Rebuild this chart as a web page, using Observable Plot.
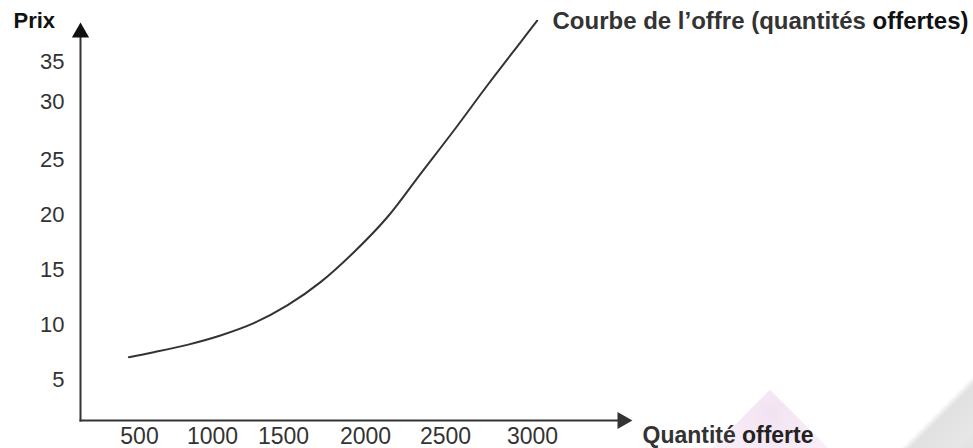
<!DOCTYPE html>
<html>
<head>
<meta charset="utf-8">
<script src="https://cdn.jsdelivr.net/npm/d3@7"></script>
<script src="https://cdn.jsdelivr.net/npm/@observablehq/plot@0.6"></script>
<style>
  html, body { margin: 0; padding: 0; background: #ffffff; }
  body { width: 973px; height: 448px; overflow: hidden; position: relative; font-family: "Liberation Sans", Arial, sans-serif; }
  #deco1 { position: absolute; left: 702px; top: 418px; width: 136px; height: 136px; transform: rotate(45deg);
           background: radial-gradient(circle at 12% 12%, rgba(228,192,226,0.45), rgba(238,214,236,0.3) 45%, rgba(255,255,255,0) 85%); }
  #deco2 { position: absolute; left: 0; top: 0; width: 973px; height: 973px;
           background: linear-gradient(135deg, rgba(255,255,255,0) 69.3%, rgba(215,215,215,0.75) 69.8%, rgba(222,222,222,0.75) 72%, rgba(205,205,205,0.8) 76%); }
  #chart { position: absolute; left: 0; top: 0; }
</style>
</head>
<body>
<div id="deco1"></div>
<div id="deco2"></div>
<div id="chart"></div>
<script>
// Supply curve: quantity offered vs price
const quantities = [427, 598, 827, 1056, 1291, 1523, 1726, 1929, 2136, 2344, 2548, 2740, 2931, 3027];
const prices     = [7.03, 7.48, 8.15, 9.0, 10.12, 11.73, 13.85, 16.57, 19.75, 23.7, 27.5, 32.0, 37.4, 40.1];

const xTicks = [500, 1000, 1500, 2000, 2500, 3000];
const yTicks = [5, 10, 15, 20, 25, 30, 35];

const yLabel = "Prix";
const xLabelA = "Quantité ";
const xLabelB = "offerte";
const curveLabelA = "Courbe de l’offre (quantités ";
const curveLabelB = "offertes)";

const data = quantities.map((q, i) => ({q, p: prices[i]}));

// The hand-drawn axes space their graduations unevenly: piecewise-linear scale transforms
const fx = d3.scaleLinear().domain(xTicks).range([139, 212, 283, 365, 445, 532]);
const fy = d3.scaleLinear().domain(yTicks).range([379, 324, 269, 214, 159, 101, 61]);

const plot = Plot.plot({
  width: 973,
  height: 448,
  marginLeft: 80,
  marginTop: 30,
  marginBottom: 28,
  marginRight: 353,
  style: {background: "transparent", fontFamily: "'Liberation Sans', Arial, sans-serif"},
  x: {type: "linear", transform: fx, domain: [80, 620], range: [80, 620]},
  y: {type: "linear", transform: fy, domain: [420, 30], range: [420, 30]},
  marks: [
    Plot.axisX(xTicks, {tickSize: 0, tickPadding: 7, fontSize: 23, fill: "#333", label: null, text: d => String(d)}),
    Plot.axisY(yTicks, {tickSize: 0, tickPadding: 16, fontSize: 22, fill: "#333", label: null, text: d => String(d)}),
    Plot.frame({anchor: "left", stroke: "#333", strokeWidth: 2}),
    Plot.frame({anchor: "bottom", stroke: "#333", strokeWidth: 2}),
    Plot.dot([0], {frameAnchor: "top-left", symbol: "triangle", r: 6.4, fill: "#111", stroke: "none", dy: 2}),
    Plot.dot([0], {frameAnchor: "bottom-right", symbol: "triangle", r: 6.4, fill: "#333", stroke: "none", rotate: 90, dx: 2}),
    Plot.line(data, {x: "q", y: "p", curve: "catmull-rom", stroke: "#333", strokeWidth: 2}),
    Plot.text([yLabel], {frameAnchor: "top-left", text: d => d, dx: -67, dy: -10, textAnchor: "start", lineAnchor: "middle", fontSize: 22, fontWeight: "bold", fill: "#111"}),
    Plot.text([curveLabelA], {frameAnchor: "top-left", text: d => d, dx: 472, dy: -9, textAnchor: "start", lineAnchor: "middle", fontSize: 24, fontWeight: "bold", fill: "#333"}),
    Plot.text([curveLabelB], {frameAnchor: "top-left", text: d => d, dx: 888, dy: -9, textAnchor: "end", lineAnchor: "middle", fontSize: 24, fontWeight: "bold", fill: "#111"}),
    Plot.text([xLabelA], {frameAnchor: "bottom-left", text: d => d, dx: 562, dy: 15, textAnchor: "start", lineAnchor: "middle", fontSize: 23, fontWeight: "bold", fill: "#333"}),
    Plot.text([xLabelB], {frameAnchor: "bottom-left", text: d => d, dx: 733, dy: 15, textAnchor: "end", lineAnchor: "middle", fontSize: 23, fontWeight: "bold", fill: "#222"})
  ]
});
document.getElementById("chart").appendChild(plot);
</script>
</body>
</html>
